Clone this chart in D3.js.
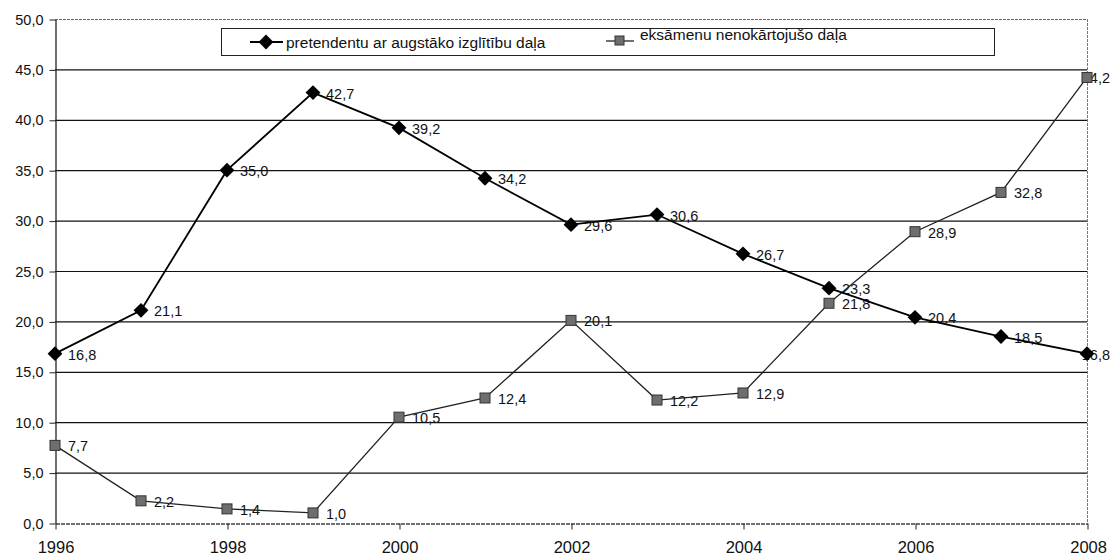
<!DOCTYPE html>
<html>
<head>
<meta charset="utf-8">
<script src="https://cdn.jsdelivr.net/npm/d3@7"></script>
<style>
  body { margin: 0; background: #fff; }
  svg { font-family: "Liberation Sans", Arial, sans-serif; }
</style>
</head>
<body>
<svg id="chart" width="1110" height="558"></svg>
<script>
var years = [1996, 1997, 1998, 1999, 2000, 2001, 2002, 2003, 2004, 2005, 2006, 2007, 2008]
var pretendenti = [16.8, 21.1, 35.0, 42.7, 39.2, 34.2, 29.6, 30.6, 26.7, 23.3, 20.4, 18.5, 16.8]
var nenokartojusi = [7.7, 2.2, 1.4, 1.0, 10.5, 12.4, 20.1, 12.2, 12.9, 21.8, 28.9, 32.8, 44.2]
var yTicks = [0, 5, 10, 15, 20, 25, 30, 35, 40, 45, 50]
var xTicks = [1996, 1998, 2000, 2002, 2004, 2006, 2008]
var seriesNames = ['pretendentu ar augstāko izglītību daļa', 'eksāmenu nenokārtojušo daļa']

var svg = d3.select('#chart')
var plotLeft = 55, plotRight = 1087, plotTop = 19, plotBottom = 523

var x = d3.scaleLinear().domain([1996, 2008]).range([plotLeft, plotRight])
var y = d3.scaleLinear().domain([0, 50]).range([plotBottom, plotTop])

function fmt (v) { return v.toFixed(1).replace('.', ',') }

// gridlines
svg.append('g').selectAll('line')
  .data(yTicks.filter(function (d) { return d > 0 && d < 50 }))
  .enter().append('line')
  .attr('x1', plotLeft).attr('x2', plotRight)
  .attr('y1', function (d) { return y(d) + 0.5 }).attr('y2', function (d) { return y(d) + 0.5 })
  .attr('stroke', '#111').attr('stroke-width', 1.2)

// plot border
svg.append('line').attr('x1', plotLeft).attr('x2', plotRight).attr('y1', y(50) + 0.5).attr('y2', y(50) + 0.5)
  .attr('stroke', '#666').attr('stroke-width', 1.2).attr('stroke-dasharray', '3,1')
svg.append('line').attr('x1', plotRight + 0.5).attr('x2', plotRight + 0.5).attr('y1', y(50)).attr('y2', y(0))
  .attr('stroke', '#777').attr('stroke-width', 1).attr('stroke-dasharray', '3,1')

// axes
var yAxis = d3.axisLeft(y).tickValues(yTicks).tickSize(6).tickSizeOuter(0).tickPadding(6).tickFormat(fmt)
var gy = svg.append('g').attr('transform', 'translate(' + (plotLeft + 0.5) + ',0.5)').call(yAxis)
gy.select('.domain').attr('stroke', '#222').attr('stroke-width', 1.3)
gy.selectAll('.tick line').attr('stroke', '#222')
gy.selectAll('text').attr('font-size', 14.5).attr('fill', '#111')
  .attr('font-family', '"Liberation Sans", Arial, sans-serif')

var xAxis = d3.axisBottom(x).tickValues(xTicks).tickSize(6).tickSizeOuter(0).tickPadding(12).tickFormat(d3.format('d'))
var gx = svg.append('g').attr('transform', 'translate(0.5,' + (plotBottom + 0.5) + ')').call(xAxis)
gx.select('.domain').attr('stroke', '#444').attr('stroke-width', 1.3).attr('stroke-dasharray', '4,1')
gx.selectAll('.tick line').attr('stroke', '#222')
gx.selectAll('text').attr('font-size', 16.5).attr('fill', '#111')
  .attr('font-family', '"Liberation Sans", Arial, sans-serif')
gx.selectAll('.tick:last-of-type text').attr('text-anchor', 'end').attr('dx', '1.15em')

// data labels (under the lines, like the original)
var labels = svg.append('g').attr('font-size', 14.5).attr('fill', '#111')
;[pretendenti, nenokartojusi].forEach(function (series) {
  series.forEach(function (v, i) {
    var t = labels.append('text')
      .attr('y', y(v) + 6)
      .text(fmt(v))
    if (i === years.length - 1) {
      t.attr('x', 1110).attr('text-anchor', 'end')
    } else {
      t.attr('x', x(years[i]) + 13)
    }
  })
})

var line = d3.line()
  .x(function (d, i) { return x(years[i]) })
  .y(function (d) { return y(d) })

svg.append('path').datum(nenokartojusi).attr('d', line)
  .attr('fill', 'none').attr('stroke', '#222').attr('stroke-width', 1.3)
svg.append('path').datum(pretendenti).attr('d', line)
  .attr('fill', 'none').attr('stroke', '#000').attr('stroke-width', 1.8)

// markers
svg.append('g').selectAll('rect').data(nenokartojusi).enter().append('rect')
  .attr('x', function (d, i) { return x(years[i]) - 5 })
  .attr('y', function (d) { return y(d) - 5 })
  .attr('width', 10).attr('height', 10)
  .attr('fill', '#6e6e6e').attr('stroke', '#333').attr('stroke-width', 1)

var diamond = d3.symbol().type(d3.symbolDiamond2).size(140)
svg.append('g').selectAll('path').data(pretendenti).enter().append('path')
  .attr('d', diamond)
  .attr('transform', function (d, i) { return 'translate(' + x(years[i]) + ',' + y(d) + ')' })
  .attr('fill', '#000')

// legend
var lg = svg.append('g')
lg.append('rect').attr('x', 221.5).attr('y', 28.5).attr('width', 773).attr('height', 27)
  .attr('fill', '#fff').attr('stroke', '#222').attr('stroke-width', 1)
lg.append('line').attr('x1', 250).attr('x2', 283).attr('y1', 42).attr('y2', 42)
  .attr('stroke', '#000').attr('stroke-width', 1.8)
lg.append('path').attr('d', diamond).attr('transform', 'translate(266,42)').attr('fill', '#000')
lg.append('text').attr('x', 286).attr('y', 48).attr('font-size', 15.5).attr('fill', '#111').text(seriesNames[0])
lg.append('line').attr('x1', 606).attr('x2', 634).attr('y1', 41).attr('y2', 41)
  .attr('stroke', '#222').attr('stroke-width', 1.3)
lg.append('rect').attr('x', 615).attr('y', 36).attr('width', 9).attr('height', 9)
  .attr('fill', '#6e6e6e').attr('stroke', '#333')
lg.append('text').attr('x', 640).attr('y', 40).attr('font-size', 15.5).attr('fill', '#111').text(seriesNames[1])
</script>
</body>
</html>
